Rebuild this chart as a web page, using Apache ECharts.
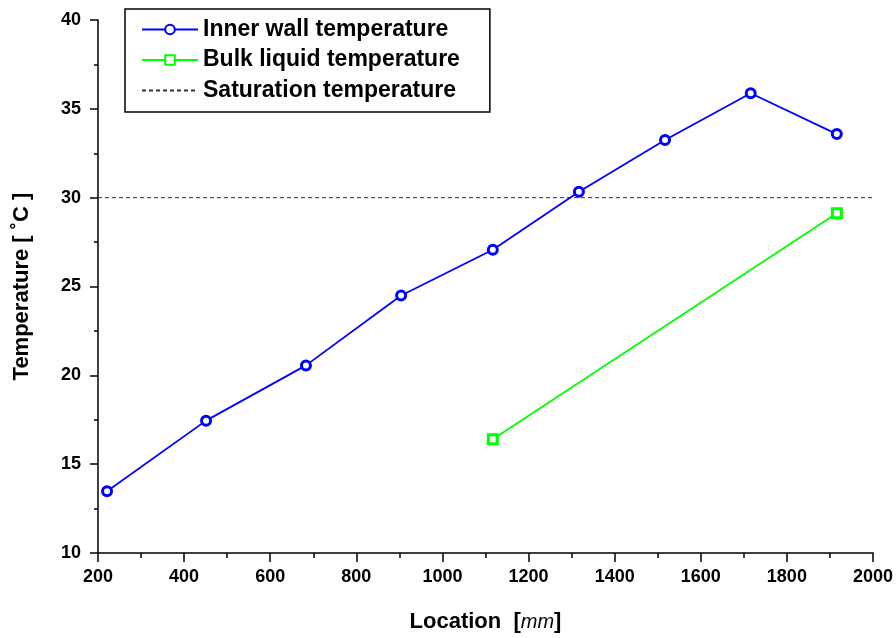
<!DOCTYPE html>
<html><head><meta charset="utf-8">
<script src="https://cdn.jsdelivr.net/npm/echarts@6/dist/echarts.min.js"></script>
<style>html,body{margin:0;padding:0;background:#fff}#c{width:896px;height:638px}</style>
</head><body><div id="c"></div>
<script>
const innerX = [221, 451, 683, 904, 1117, 1317, 1517, 1716, 1916];
const innerY = [13.48, 17.45, 20.56, 24.49, 27.07, 30.33, 33.25, 35.88, 33.58];
const bulkX = [1117, 1916];
const bulkY = [16.4, 29.12];
const satX = [200, 2000];
const satY = [30, 30];
const seriesNames = ['Inner wall temperature', 'Bulk liquid temperature', 'Saturation temperature'];

const zip = (a, b) => a.map((v, i) => [v, b[i]]);
const F = '"Liberation Sans", Arial, sans-serif';
const chart = echarts.init(document.getElementById('c'), null, {renderer: 'canvas'});
chart.setOption({
  animation: false,
  backgroundColor: '#fff',
  grid: {left: 98, right: 22, top: 20, bottom: 84},
  legend: {
    orient: 'vertical', left: 125, top: 9,
    padding: [9, 30, 10, 16], itemGap: 7.5,
    itemWidth: 56, itemHeight: 12,
    borderColor: '#000', borderWidth: 1.5,
    textStyle: {fontFamily: F, fontWeight: 'bold', fontSize: 23, color: '#000'},
    data: [seriesNames[0], seriesNames[1],
      {name: seriesNames[2], itemStyle: {opacity: 0}}]
  },
  xAxis: {
    type: 'value', min: 200, max: 2000, interval: 200,
    name: 'Location  [{i|mm}]', nameLocation: 'middle', nameGap: 58,
    nameTextStyle: {fontFamily: F, fontWeight: 'bold', fontSize: 22, color: '#000',
      rich: {i: {fontFamily: F, fontStyle: 'italic', fontWeight: 'normal', fontSize: 20, color: '#000'}}},
    axisLine: {lineStyle: {color: '#000', width: 1.5}},
    axisTick: {inside: false, length: 9, lineStyle: {color: '#000', width: 1.5}},
    minorTick: {show: true, splitNumber: 2, length: 5, lineStyle: {color: '#000', width: 1.5}},
    axisLabel: {fontFamily: F, fontWeight: 'bold', fontSize: 18, color: '#000', margin: 15,
      formatter: v => String(v)},
    splitLine: {show: false}
  },
  yAxis: {
    type: 'value', min: 10, max: 40, interval: 5,
    name: 'Temperature [ ˚C ]', nameLocation: 'middle', nameGap: 65,
    nameTextStyle: {fontFamily: F, fontWeight: 'bold', fontSize: 22, color: '#000'},
    axisLine: {show: true, lineStyle: {color: '#000', width: 1.5}},
    axisTick: {show: true, inside: false, length: 8, lineStyle: {color: '#000', width: 1.5}},
    minorTick: {show: true, splitNumber: 2, length: 4, lineStyle: {color: '#000', width: 1.5}},
    axisLabel: {fontFamily: F, fontWeight: 'bold', fontSize: 18, color: '#000', margin: 17},
    splitLine: {show: false}
  },
  series: [
    {name: seriesNames[0], type: 'line', data: zip(innerX, innerY),
     color: '#0000ff', symbol: 'circle', symbolSize: 9,
     itemStyle: {color: '#fff', borderColor: '#0000ff', borderWidth: 3},
     lineStyle: {color: '#0000ff', width: 1.8}, z: 3},
    {name: seriesNames[1], type: 'line', data: zip(bulkX, bulkY),
     color: '#00ff00', symbol: 'rect', symbolSize: 9,
     itemStyle: {color: '#fff', borderColor: '#00ff00', borderWidth: 3},
     lineStyle: {color: '#00ff00', width: 1.8}, z: 3},
    {name: seriesNames[2], type: 'line', data: zip(satX, satY),
     color: '#333', symbol: 'none',
     lineStyle: {color: '#333', width: 1, type: [4, 3]}, z: 2}
  ]
});
</script></body></html>
